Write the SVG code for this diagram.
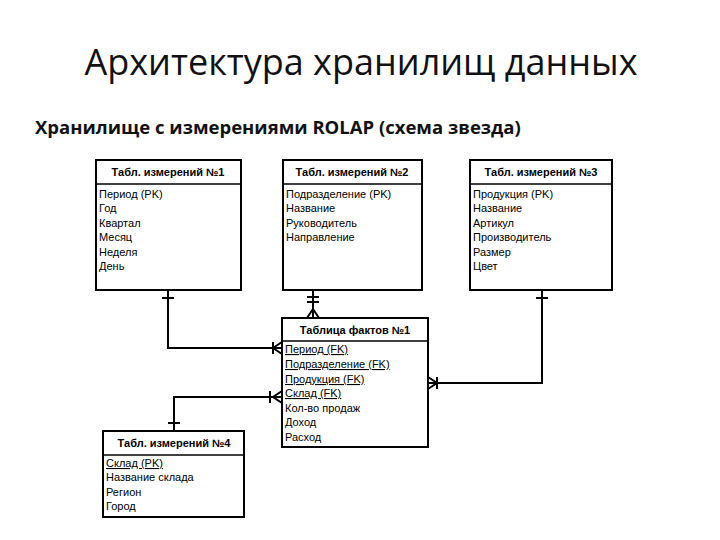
<svg xmlns="http://www.w3.org/2000/svg" width="720" height="540" viewBox="0 0 720 540">
<style>
.box{fill:#fff;stroke:#000;stroke-width:2}
.sep{stroke:#000;stroke-width:1.5}
.h{font-family:"Liberation Sans",Arial,sans-serif;font-size:11px;font-weight:bold;text-anchor:middle}
.r{font-family:"Liberation Sans",Arial,sans-serif;font-size:11px}
.u{text-decoration:underline}
.c{fill:none;stroke:#000;stroke-width:2}
</style>
<rect width="720" height="540" fill="#fff"/>
<text x="361" y="75" font-family="Open Sans,Liberation Sans,sans-serif" font-size="36" text-anchor="middle" fill="#111">Архитектура хранилищ данных</text>
<text x="35" y="134" font-family="Open Sans,Liberation Sans,sans-serif" font-size="18.5" font-weight="bold" fill="#111">Хранилище с измерениями ROLAP (схема звезда)</text>

<g id="connectors" class="c">
<path d="M168 290V348H282"/><path d="M162 298H174M273 342V354M282 342L273 348L282 354"/>
<path d="M313 290V318"/><path d="M307 297H319M307 302H319M307 318L313 309L319 318"/>
<path d="M542 290V383H428"/><path d="M536 298H548M437 377V389M428 377L437 383L428 389"/>
<path d="M174 431V397H282"/><path d="M168 423H180M270 391V403M282 391L273 397L282 403"/>
</g>

<g id="t1"><rect class="box" x="96" y="160" width="145" height="130"/><line class="sep" x1="96" y1="184" x2="241" y2="184"/>
<text class="h" x="168" y="176">Табл. измерений №1</text>
<text class="r" x="99" y="198">Период (PK)</text><text class="r" x="99" y="212">Год</text><text class="r" x="99" y="227">Квартал</text><text class="r" x="99" y="241">Месяц</text><text class="r" x="99" y="256">Неделя</text><text class="r" x="99" y="270">День</text></g>

<g id="t2"><rect class="box" x="283" y="160" width="139" height="130"/><line class="sep" x1="283" y1="184" x2="422" y2="184"/>
<text class="h" x="352" y="176">Табл. измерений №2</text>
<text class="r" x="286" y="198">Подразделение (PK)</text><text class="r" x="286" y="212">Название</text><text class="r" x="286" y="227">Руководитель</text><text class="r" x="286" y="241">Направление</text></g>

<g id="t3"><rect class="box" x="470" y="160" width="142" height="130"/><line class="sep" x1="470" y1="184" x2="612" y2="184"/>
<text class="h" x="541" y="176">Табл. измерений №3</text>
<text class="r" x="473" y="198">Продукция (PK)</text><text class="r" x="473" y="212">Название</text><text class="r" x="473" y="227">Артикул</text><text class="r" x="473" y="241">Производитель</text><text class="r" x="473" y="256">Размер</text><text class="r" x="473" y="270">Цвет</text></g>

<g id="fact"><rect class="box" x="282" y="318" width="146" height="129"/><line class="sep" x1="282" y1="341" x2="428" y2="341"/>
<text class="h" x="355" y="334">Таблица фактов №1</text>
<text class="r u" x="285" y="353">Период (FK)</text><text class="r u" x="285" y="368">Подразделение (FK)</text><text class="r u" x="285" y="383">Продукция (FK)</text><text class="r u" x="285" y="397">Склад (FK)</text><text class="r" x="285" y="412">Кол-во продаж</text><text class="r" x="285" y="426">Доход</text><text class="r" x="285" y="441">Расход</text></g>

<g id="t4"><rect class="box" x="103" y="431" width="141" height="86"/><line class="sep" x1="103" y1="455" x2="244" y2="455"/>
<text class="h" x="174" y="447">Табл. измерений №4</text>
<text class="r u" x="106" y="467">Склад (PK)</text><text class="r" x="106" y="481">Название склада</text><text class="r" x="106" y="496">Регион</text><text class="r" x="106" y="510">Город</text></g>
</svg>
